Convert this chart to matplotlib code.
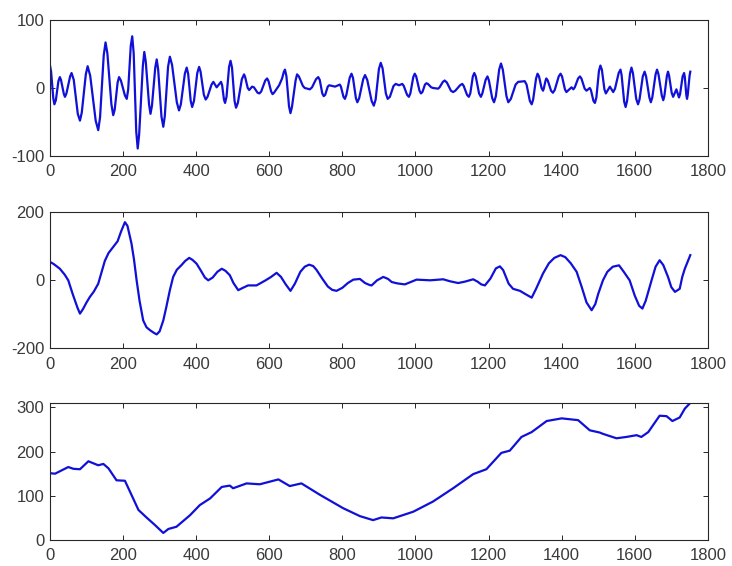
import matplotlib.pyplot as plt

# panel 1: fast oscillation
x1 = [0, 3, 9, 12, 16, 23, 27, 30, 38, 41, 45, 55, 59, 65, 76, 82, 87, 98, 103,
      110, 125, 132, 137, 147, 152, 157, 168, 173, 177, 185, 189, 194, 205, 210,
      214, 221, 225, 229, 236, 240, 244, 254, 258, 262, 271, 275, 279, 288, 292,
      296, 305, 310, 314, 323, 328, 334, 347, 353, 358, 369, 374, 378, 385, 389,
      394, 403, 408, 412, 421, 426, 431, 442, 447, 456, 468, 471, 476, 479, 483,
      490, 494, 498, 505, 509, 514, 525, 531, 534, 541, 545, 553, 558, 568, 573,
      578, 589, 594, 598, 605, 609, 613, 618, 627, 635, 640, 643, 647, 654, 658,
      662, 672, 676, 681, 692, 697, 711, 717, 728, 734, 738, 745, 749, 753, 760,
      764, 780, 793, 796, 803, 807, 811, 820, 825, 829, 837, 841, 846, 857, 862,
      868, 880, 886, 891, 900, 905, 910, 919, 924, 930, 940, 946, 955, 964, 968,
      977, 982, 986, 994, 998, 1002, 1011, 1015, 1019, 1026, 1030, 1034, 1043,
      1048, 1062, 1066, 1075, 1080, 1086, 1097, 1103, 1109, 1122, 1128, 1132,
      1141, 1146, 1150, 1157, 1161, 1165, 1174, 1179, 1183, 1192, 1197, 1201,
      1210, 1215, 1220, 1229, 1234, 1239, 1249, 1254, 1261, 1274, 1281, 1299,
      1304, 1313, 1318, 1322, 1330, 1334, 1338, 1345, 1349, 1351, 1356, 1358,
      1362, 1371, 1376, 1381, 1392, 1397, 1401, 1409, 1413, 1427, 1432, 1436,
      1445, 1450, 1454, 1463, 1468, 1477, 1480, 1487, 1491, 1495, 1502, 1506,
      1510, 1517, 1521, 1532, 1541, 1546, 1556, 1561, 1564, 1571, 1575, 1579,
      1587, 1591, 1595, 1604, 1609, 1613, 1622, 1627, 1631, 1640, 1644, 1648,
      1657, 1661, 1665, 1674, 1678, 1681, 1688, 1691, 1694, 1701, 1705, 1714,
      1721, 1724, 1731, 1735, 1737, 1741, 1743, 1745, 1750, 1752]
y1 = [33, 24, -15, -24, -18, 10, 16, 12, -9, -13, -8, 17, 22, 12, -38, -48, -36,
      20, 32, 18, -48, -62, -43, 48, 67, 51, -24, -40, -32, 8, 16, 11, -11, -16,
      -2, 62, 76, 51, -64, -89, -68, 32, 53, 39, -24, -38, -26, 30, 42,
      27, -42, -57, -42, 31, 46, 34, -21, -33, -24, 21, 30, 21, -19, -28,
      -19, 22, 31, 24, -10, -17, -13, 5, 9, 1, 9, 4, -17, -22, -13,
      31, 40, 30, -19, -29, -22, 13, 20, 16, 0, -3, 2, 1, -7, -8,
      -5, 11, 14, 10, -5, -9, -7, -3, 4, 14, 24, 27, 17, -27, -37,
      -28, 11, 20, 17, 3, 0, -2, 1, 13, 16, 12, -8, -12, -10, 2,
      4, 2, 5, 2, -13, -16, -10, 15, 21, 15, -15, -21, -15, 13, 19,
      12, -19, -26, -17, 28, 37, 29, -8, -16, -13, 3, 6, 4, 6, 3,
      -10, -13, -8, 16, 21, 17, -4, -8, -6, 5, 7, 6, 1,
      0, -1, 1, 9, 11, 8, -4, -6, -4, 4, 6, 3,
      -10, -13, -8, 17, 22, 17, -8, -13, -8, 12, 17, 11,
      -15, -21, -12, 27, 36, 27, -12, -21, -16, 5, 9, 10,
      5, -19, -24, -17, 14, 21, 17, 0, -4, -1, 11, 14,
      11, -4, -7, -3, 17, 21, 17, -2, -6, 1, -2, 1,
      14, 17, 14, -1, -4, 0, -3, -19, -22, -14, 25, 33,
      27, -2, -8, 2, -6, -1, 22, 27, 19, -20, -28, -19,
      21, 30, 22, -16, -24, -17, 17, 24, 17, -14, -21, -14,
      20, 27, 20, -11, -18, -12, 18, 24, 18, -7, -13, -2,
      -14, -9, 17, 22, 16, -10, -16, -10, 18, 24]

# panel 2: slower oscillation
x2 = [0, 10, 27, 40, 50, 62, 75, 82, 90, 100, 109, 120, 132, 140, 150, 160, 173,
      185, 195, 205, 212, 223, 230, 237, 245, 255, 264, 274, 285, 292, 300, 310,
      318, 328, 337, 347, 360, 370, 381, 390, 401, 412, 424, 433, 445, 458, 470,
      480, 492, 502, 515, 528, 542, 565, 590, 605, 620, 632, 645, 658, 670, 685,
      697, 709, 720, 729, 745, 760, 772, 784, 800, 815, 830, 848, 862, 875, 880,
      895, 912, 925, 935, 950, 971, 985, 1003, 1040, 1076, 1095, 1117, 1135,
      1158, 1170, 1180, 1190, 1205, 1220, 1231, 1240, 1255, 1267, 1286, 1300,
      1318, 1330, 1349, 1365, 1380, 1397, 1410, 1425, 1441, 1455, 1468, 1482,
      1492, 1500, 1513, 1525, 1540, 1557, 1570, 1586, 1600, 1612, 1621, 1630,
      1646, 1657, 1668, 1678, 1691, 1700, 1710, 1723, 1730, 1737, 1745, 1752]
y2 = [54, 48, 34, 17, 0, -40, -80, -98, -85, -65, -49, -33, -10, 20, 57, 80, 98,
      115, 145, 171, 160, 108, 60, 0, -60, -118, -138, -147, -155, -159, -150,
      -118, -80, -29, 10, 31, 45, 57, 66, 60, 49, 30, 8, 0, 8, 25, 34,
      28, 15, -8, -29, -22, -15, -15, 0, 10, 22, 10, -12, -31, -10, 25,
      40, 46, 42, 31, 5, -18, -28, -31, -22, -8, 2, 4, -8, -14, -15,
      0, 10, 4, -5, -9, -12, -6, 2, 0, 3, -3, -8, -4,
      3, -4, -12, -15, 5, 35, 41, 30, -10, -25, -31, -40,
      -51, -25, 20, 50, 66, 74, 68, 50, 25, -20, -65, -88,
      -70, -40, 0, 25, 40, 44, 25, 0, -45, -75, -83, -60,
      0, 40, 59, 45, 10, -20, -34, -25, 10, 34, 55, 74]

# panel 3: slow trend
x3 = [0, 14, 50, 64, 82, 105, 132, 146, 160, 182, 205, 223, 242, 264, 287, 310,
      324, 346, 383, 410, 438, 470, 492, 501, 538, 574, 625, 656, 688, 739, 802,
      848, 884, 907, 939, 994, 1048, 1103, 1158, 1194, 1235, 1258, 1290, 1318,
      1359, 1400, 1445, 1477, 1504, 1513, 1550, 1577, 1605, 1618, 1637, 1668,
      1687, 1703, 1723, 1737, 1752]
y3 = [151, 150, 165, 161, 160, 178, 169, 172, 162, 135, 134, 102, 68, 51, 34, 16,
      25, 30, 56, 79, 94, 120, 123, 117, 128, 126, 137, 122, 128, 102, 72,
      54, 45, 51, 49, 64, 87, 117, 149, 160, 197, 202, 233, 244,
      269, 275, 271, 248, 243, 240, 230, 233, 237, 233, 244, 281,
      280, 269, 277, 297, 310]

xticks = list(range(0, 1801, 200))
yticks = [[-100, 0, 100], [-200, 0, 200], [0, 100, 200, 300]]
ylims = [(-100, 100), (-200, 200), (0, 309)]

plt.rcParams['font.family'] = ['Liberation Sans', 'DejaVu Sans']
plt.rcParams['axes.unicode_minus'] = False
fig = plt.figure(figsize=(7.32, 5.66), dpi=100)

boxes = [[0.0683, 0.7244, 0.8987, 0.2403],
         [0.0683, 0.3846, 0.8987, 0.2403],
         [0.0683, 0.0459, 0.8987, 0.2415]]
series = [(x1, y1), (x2, y2), (x3, y3)]

for i in range(3):
    ax = fig.add_axes(boxes[i])
    xs, ys = series[i]
    ax.plot(xs, ys, color='#1010d8', lw=1.6, solid_joinstyle='round')
    ax.set_xlim(0, 1800)
    ax.set_ylim(*ylims[i])
    ax.set_xticks(xticks)
    ax.set_yticks(yticks[i])
    ax.tick_params(direction='in', top=True, right=True, length=3.6, width=0.7,
                   color='#262626', labelcolor='#3a3a3a', labelsize=12)
    ax.tick_params(axis='x', pad=6)
    ax.tick_params(axis='y', pad=4)
    for s in ax.spines.values():
        s.set_color('#262626')
        s.set_linewidth(0.8)

plt.savefig('out.png', dpi=100)
